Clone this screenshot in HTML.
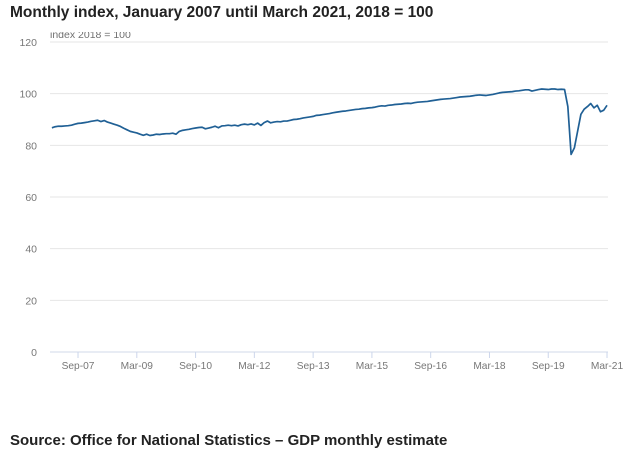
<!DOCTYPE html>
<html><head><meta charset="utf-8"><style>
body{margin:0;background:#fff;width:630px;height:457px;overflow:hidden;font-family:"Liberation Sans",sans-serif}
</style></head><body>
<svg width="630" height="457">
<text x="50" y="38" font-size="10.5" fill="#707070">index 2018 = 100</text>
<rect x="0" y="0" width="630" height="32" fill="#fff"/>
<text x="10" y="17" font-size="15.5" font-weight="bold" fill="#222">Monthly index, January 2007 until March 2021, 2018 = 100</text>
<g id="grid"></g><g id="xax"></g><g id="series"></g>
<text x="10" y="445" font-size="15" font-weight="bold" fill="#222">Source: Office for National Statistics – GDP monthly estimate</text>
</svg>
<script>
const yTicks=[0,20,40,60,80,100,120];
const xTickLabels=["Sep-07","Mar-09","Sep-10","Mar-12","Sep-13","Mar-15","Sep-16","Mar-18","Sep-19","Mar-21"];
const xTickIdx=[8,26,44,62,80,98,116,134,152,170];
const values=[
86.8,87.2,87.4,87.4,87.5,87.6,87.8,88.2,88.5,88.6,88.8,89.0,
89.3,89.5,89.7,89.2,89.6,89.0,88.6,88.2,87.8,87.3,86.6,86.0,
85.4,85.1,84.8,84.3,83.9,84.3,83.8,84.0,84.3,84.2,84.4,84.5,
84.5,84.7,84.3,85.4,85.8,86.0,86.2,86.5,86.7,86.9,87.0,86.4,
86.7,87.0,87.4,86.8,87.5,87.6,87.8,87.6,87.8,87.5,88.0,88.2,
88.0,88.3,87.9,88.6,87.7,88.8,89.4,88.7,89.0,89.2,89.1,89.4,
89.4,89.7,90.0,90.1,90.3,90.6,90.8,91.0,91.2,91.6,91.7,91.9,
92.1,92.3,92.6,92.8,93.0,93.2,93.3,93.5,93.7,93.9,94.0,94.2,
94.3,94.5,94.6,94.8,95.1,95.3,95.2,95.5,95.6,95.8,95.9,96.0,
96.2,96.3,96.2,96.5,96.7,96.8,96.9,97.0,97.2,97.4,97.6,97.8,
97.9,98.0,98.1,98.3,98.5,98.7,98.8,98.9,99.0,99.2,99.4,99.5,
99.4,99.3,99.5,99.7,100.0,100.3,100.5,100.6,100.7,100.8,101.0,101.1,
101.3,101.5,101.5,101.0,101.3,101.6,101.8,101.7,101.6,101.8,101.8,101.6,
101.7,101.6,95.0,76.5,79.0,85.5,92.0,94.0,95.0,96.2,94.5,95.5,
93.0,93.6,95.5];
const NS="http://www.w3.org/2000/svg";
const y=v=>352-v*(310/120);
const x=i=>51.9+i*(529/162);
function mk(t,a,p){const e=document.createElementNS(NS,t);for(const k in a)e.setAttribute(k,a[k]);p.appendChild(e);return e;}
const grid=document.getElementById('grid');
yTicks.forEach(v=>{
 const l=mk('line',{x1:50,x2:608,y1:y(v),y2:y(v),stroke:v===0?'#d0d8e8':'#e6e6e6','stroke-width':1},grid);
 
 
 const t=mk('text',{x:37,y:y(v)+4,'font-size':10.5,fill:'#777','text-anchor':'end'},grid);
 t.textContent=v;
 
 
});
const xax=document.getElementById('xax');
xTickIdx.forEach((idx,k)=>{
 const l=mk('line',{x1:x(idx),x2:x(idx),y1:352,y2:358,stroke:'#ccd6eb'},xax);
 
 
 const t=mk('text',{x:x(idx),y:369,'font-size':10.2,fill:'#777','text-anchor':'middle'},xax);
 t.textContent=xTickLabels[k];
 
 
});
const p=mk('path',{d:values.map((v,i)=>(i?'L':'M')+x(i).toFixed(2)+','+y(v).toFixed(2)).join(''),fill:'none',stroke:'#206095','stroke-width':1.7,'stroke-linejoin':'round'},document.getElementById('series'));


</script>
</body></html>
